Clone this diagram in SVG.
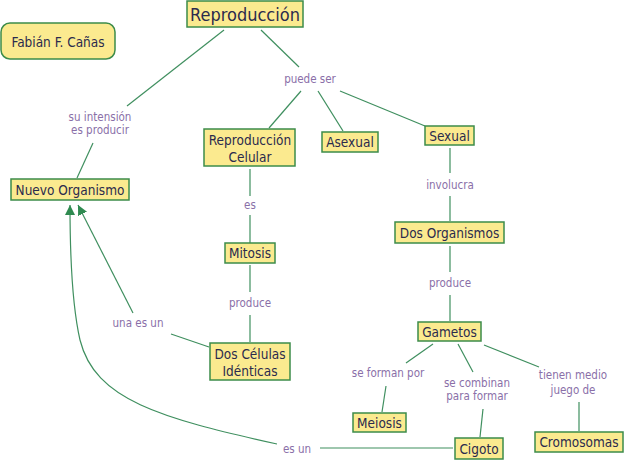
<svg xmlns="http://www.w3.org/2000/svg" width="625" height="462" viewBox="0 0 625 462">
<defs>
<style>
.box{fill:#fbea8f;stroke:#3d8c4a;stroke-width:1.5}
.nt{font-family:"DejaVu Sans Condensed","DejaVu Sans",sans-serif;font-size:13.5px;fill:#2b2b4d;text-anchor:middle}
.lt{font-family:"DejaVu Sans Condensed","DejaVu Sans",sans-serif;font-size:11.5px;fill:#8a6fa8;text-anchor:middle}
.ln{fill:none;stroke:#3f8f5f;stroke-width:1.2}
</style>
<marker id="ah" viewBox="0 0 10 10" refX="10" refY="5" markerWidth="10" markerHeight="10" markerUnits="userSpaceOnUse" orient="auto">
<path d="M0,0 L10,5 L0,10 z" fill="#2f8a50"/>
</marker>
</defs>
<rect width="625" height="462" fill="#ffffff"/>
<g id="connectors">
<line class="ln" x1="224" y1="30" x2="127" y2="106"/>
<line class="ln" x1="93" y1="143" x2="77" y2="178"/>
<line class="ln" x1="261" y1="30" x2="299" y2="67"/>
<line class="ln" x1="301" y1="91" x2="269" y2="128"/>
<line class="ln" x1="318" y1="91" x2="343" y2="131"/>
<line class="ln" x1="340" y1="91" x2="425" y2="126"/>
<line class="ln" x1="250" y1="169" x2="250" y2="196"/>
<line class="ln" x1="250" y1="215" x2="250" y2="243"/>
<line class="ln" x1="250" y1="265" x2="250" y2="292"/>
<line class="ln" x1="250" y1="315" x2="250" y2="342"/>
<line class="ln" x1="209" y1="347" x2="171" y2="334"/>
<line class="ln" x1="133" y1="313" x2="78" y2="205" marker-end="url(#ah)" stroke-width="1.4"/>
<path class="ln" d="M277,444 C160,418 95,400 80,340 C72,305 70,260 70,205" marker-end="url(#ah)" stroke-width="1.4"/>
<line class="ln" x1="453" y1="448" x2="320" y2="448"/>
<line class="ln" x1="450" y1="148" x2="450" y2="173"/>
<line class="ln" x1="450" y1="196" x2="450" y2="221"/>
<line class="ln" x1="450" y1="246" x2="450" y2="272"/>
<line class="ln" x1="450" y1="295" x2="450" y2="321"/>
<line class="ln" x1="433" y1="344" x2="406" y2="363"/>
<line class="ln" x1="386" y1="386" x2="382" y2="412"/>
<line class="ln" x1="458" y1="344" x2="473" y2="372"/>
<line class="ln" x1="483" y1="409" x2="480" y2="437"/>
<line class="ln" x1="484" y1="345" x2="539" y2="367"/>
<line class="ln" x1="579" y1="402" x2="579" y2="431"/>
</g>
<g id="labels">
<text class="lt" x="100" y="121">su intensión</text>
<text class="lt" x="100" y="134">es producir</text>
<text class="lt" x="310" y="83">puede ser</text>
<text class="lt" x="250" y="209">es</text>
<text class="lt" x="250" y="307">produce</text>
<text class="lt" x="138" y="327">una es un</text>
<text class="lt" x="297" y="453">es un</text>
<text class="lt" x="450" y="189">involucra</text>
<text class="lt" x="450" y="287">produce</text>
<text class="lt" x="388" y="377">se forman por</text>
<text class="lt" x="477" y="387">se combinan</text>
<text class="lt" x="477" y="400">para formar</text>
<text class="lt" x="573" y="379">tienen medio</text>
<text class="lt" x="573" y="394">juego de</text>
</g>
<g id="n-reproduccion"><rect class="box" x="187" y="1" width="116" height="26"/><text class="nt" x="245" y="21" style="font-size:18px">Reproducción</text></g>
<g id="n-autor"><rect class="box" x="1" y="23" width="114" height="36" rx="9"/><text class="nt" x="58" y="47">Fabián F. Cañas</text></g>
<g id="n-nuevo"><rect class="box" x="11" y="179" width="118" height="21"/><text class="nt" x="70" y="194.5">Nuevo Organismo</text></g>
<g id="n-repcel"><rect class="box" x="204" y="129" width="91" height="37"/><text class="nt" x="250" y="145">Reproducción</text><text class="nt" x="250" y="162">Celular</text></g>
<g id="n-asexual"><rect class="box" x="322" y="132" width="56" height="20"/><text class="nt" x="350" y="147">Asexual</text></g>
<g id="n-sexual"><rect class="box" x="425" y="126" width="49" height="19"/><text class="nt" x="449.5" y="140.5">Sexual</text></g>
<g id="n-mitosis"><rect class="box" x="225" y="243" width="50" height="20"/><text class="nt" x="250" y="258">Mitosis</text></g>
<g id="n-dosCel"><rect class="box" x="210" y="343" width="80" height="37"/><text class="nt" x="250" y="359">Dos Células</text><text class="nt" x="250" y="376">Idénticas</text></g>
<g id="n-dosOrg"><rect class="box" x="395" y="222" width="109" height="21"/><text class="nt" x="449.5" y="237.5">Dos Organismos</text></g>
<g id="n-gametos"><rect class="box" x="418" y="322" width="63" height="19"/><text class="nt" x="449.5" y="336.5">Gametos</text></g>
<g id="n-meiosis"><rect class="box" x="353" y="413" width="53" height="19"/><text class="nt" x="379.5" y="427.5">Meiosis</text></g>
<g id="n-cigoto"><rect class="box" x="455" y="438" width="48" height="21"/><text class="nt" x="479" y="453.5">Cigoto</text></g>
<g id="n-cromosomas"><rect class="box" x="535" y="432" width="88" height="20"/><text class="nt" x="579" y="447">Cromosomas</text></g>
</svg>
